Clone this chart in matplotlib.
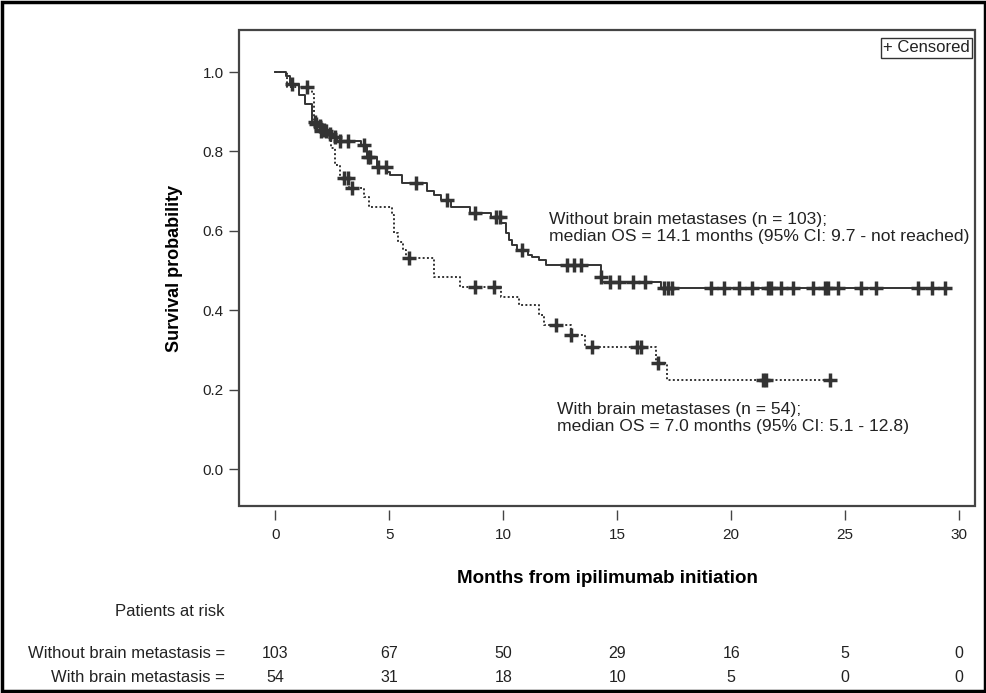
import numpy as np
import matplotlib
matplotlib.use("Agg")
import matplotlib.pyplot as plt
from matplotlib.patches import Rectangle
from matplotlib.transforms import blended_transform_factory

plt.rcParams['font.family'] = ['Liberation Sans', 'DejaVu Sans']

# without brain metastases (n = 103): step times and survival after the step
no_bm_t = [0, 0.45, 0.65, 1.05, 1.3, 1.6, 1.9, 2.1, 2.3, 2.5, 2.7, 3.75, 4.0, 4.45,
           4.9, 5.05, 5.56, 6.66, 6.95, 7.25, 7.69, 8.56, 9.44, 9.9, 10.1, 10.25,
           10.4, 10.6, 11.1, 11.27, 11.57, 11.86, 14.27, 14.35, 16.9]
no_bm_s = [1.0, 0.99, 0.971, 0.942, 0.92, 0.875, 0.864, 0.854, 0.845, 0.836, 0.827,
           0.816, 0.786, 0.761, 0.749, 0.741, 0.72, 0.70, 0.69, 0.678, 0.661, 0.645,
           0.636, 0.62, 0.594, 0.577, 0.564, 0.552, 0.54, 0.535, 0.526, 0.514,
           0.485, 0.472, 0.455]
no_bm_cens = [0.73, 1.75, 1.95, 2.15, 2.4, 2.6, 2.85, 3.2, 3.9, 4.05, 4.15, 4.5, 4.85,
              6.15, 7.54, 8.78, 9.66, 9.85, 10.83, 12.8, 13.1, 13.4, 14.3, 14.7, 15.1,
              15.7, 16.2, 17.05, 17.25, 17.4, 19.1, 19.7, 20.35, 20.9, 21.6, 21.75,
              22.2, 22.7, 23.6, 24.1, 24.25, 24.7, 25.7, 26.35, 28.2, 28.8, 29.4]

# with brain metastases (n = 54)
bm_t = [0, 0.5, 1.6, 1.7, 2.0, 2.3, 2.45, 2.63, 2.85, 3.25, 3.87, 4.1, 5.12, 5.2,
        5.4, 5.6, 5.75, 6.95, 8.12, 9.88, 10.69, 11.57, 11.8, 12.96, 13.6, 16.7, 17.2]
bm_s = [1.0, 0.963, 0.944, 0.87, 0.852, 0.833, 0.808, 0.766, 0.733, 0.708, 0.686,
        0.661, 0.64, 0.594, 0.573, 0.552, 0.531, 0.484, 0.459, 0.434, 0.413, 0.388,
        0.363, 0.338, 0.308, 0.267, 0.224]
bm_cens = [1.39, 1.8, 2.0, 2.2, 3.0, 3.2, 3.35, 5.85, 8.78, 9.58, 12.3, 12.96, 13.9,
           15.85, 16.05, 16.8, 21.4, 21.55, 24.35]

risk_times = [0, 5, 10, 15, 20, 25, 30]
risk_no_bm = [103, 67, 50, 29, 16, 5, 0]
risk_bm = [54, 31, 18, 10, 5, 0, 0]

col = '#333333'
txt = '#222222'

fig = plt.figure(figsize=(9.87, 6.93), dpi=100)
ax = fig.add_axes([0.2421, 0.2698, 0.7457, 0.6869])


def km(t, s, cens, ls):
    t = np.array(t)
    s = np.array(s)
    end = max(cens)
    ax.step(np.append(t, end), np.append(s, s[-1]), where='post',
            color=col, lw=1.4, linestyle=ls)
    c = np.array(cens)
    cy = s[np.searchsorted(t, c, side='right') - 1]
    ax.plot(c, cy, '+', color=col, ms=10.5, mew=2.5, linestyle='none')


km(no_bm_t, no_bm_s, no_bm_cens, '-')
km(bm_t, bm_s, bm_cens, (0, (1, 1.2)))

ax.set_xlim(-1.6, 30.7)
ax.set_ylim(-0.093, 1.106)
ax.set_xticks(risk_times)
ax.set_yticks(np.arange(0, 1.01, 0.2))
ax.set_yticklabels(['%.1f' % v for v in np.arange(0, 1.01, 0.2)])

for sp in ax.spines.values():
    sp.set_visible(False)
ax.spines['bottom'].set_position(('outward', 3))
ax.add_patch(Rectangle((0, 0), 1, 1, transform=ax.transAxes, fill=False,
                       ec='#444444', lw=1.6, clip_on=False))
ax.tick_params(axis='both', length=7, width=1, color='#444444',
               labelsize=11, labelcolor=txt)
ax.tick_params(axis='x', pad=6)
ax.tick_params(axis='y', pad=4)

ax.set_xlabel('Months from ipilimumab initiation', fontsize=13.5,
              fontweight='bold', labelpad=20)
ax.set_ylabel('Survival probability', fontsize=13, fontweight='bold',
              labelpad=14)

ax.text(12.0, 0.607, 'Without brain metastases (n = 103);\n'
        'median OS = 14.1 months (95% CI: 9.7 - not reached)',
        fontsize=12.6, ha='left', va='center', color=txt, linespacing=1.15)
ax.text(12.34, 0.128, 'With brain metastases (n = 54);\n'
        'median OS = 7.0 months (95% CI: 5.1 - 12.8)',
        fontsize=12.6, ha='left', va='center', color=txt, linespacing=1.15)

ax.text(0.993, 0.979, '+ Censored', transform=ax.transAxes, ha='right', va='top',
        fontsize=12, color=txt,
        bbox=dict(boxstyle='square,pad=0.15', fc='white', ec='#333333', lw=1))

# patients at risk table
tr = blended_transform_factory(ax.transData, fig.transFigure)
lx = 225 / 987
fig.text(lx, 1 - 612 / 693, 'Patients at risk', ha='right', va='center',
         fontsize=12, color=txt)
fig.text(lx, 1 - 653 / 693, 'Without brain metastasis =', ha='right',
         va='center', fontsize=12, color=txt)
fig.text(lx, 1 - 677 / 693, 'With brain metastasis =', ha='right',
         va='center', fontsize=12, color=txt)
for t, a, b in zip(risk_times, risk_no_bm, risk_bm):
    ax.text(t, 1 - 653 / 693, str(a), transform=tr, ha='center', va='center',
            fontsize=11.5, color=txt)
    ax.text(t, 1 - 677 / 693, str(b), transform=tr, ha='center', va='center',
            fontsize=11.5, color=txt)

fig.patches.append(Rectangle((0.002, 0.003), 0.996, 0.994, transform=fig.transFigure,
                             fill=False, ec='black', lw=2.5))

fig.savefig('out.png', dpi=100)
